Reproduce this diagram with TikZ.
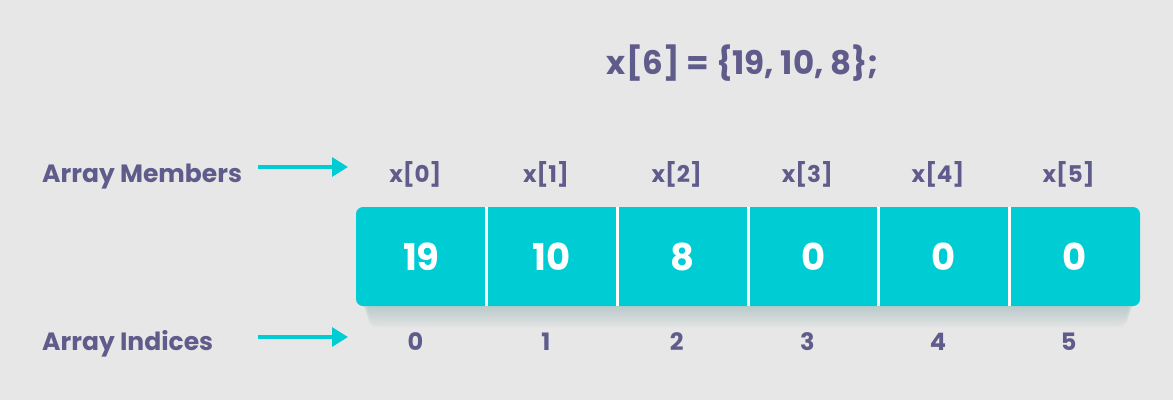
\documentclass[tikz,border=0pt]{standalone}
\usepackage{fontspec}
\setmainfont{Poppins}[UprightFont=*-Bold, BoldFont=*-Bold]
\usetikzlibrary{arrows.meta,positioning,calc}
\definecolor{bg}{HTML}{E7E7E7}
\definecolor{ink}{HTML}{5F5B8B}
\definecolor{teal}{HTML}{00CDD3}
\definecolor{shadowc}{HTML}{7FA6A8}
\tikzset{
  lbl/.style={text=ink, font=\fontsize{25}{28}\selectfont, anchor=base west, inner sep=0pt},
  mem/.style={text=ink, font=\fontsize{23}{26}\selectfont, anchor=base, inner sep=0pt},
  val/.style={text=white, font=\fontsize{37}{40}\selectfont, inner sep=0pt, minimum width=130.67pt, minimum height=99pt},
  idx/.style={text=ink, font=\fontsize{24}{26}\selectfont, anchor=base, inner sep=0pt},
  pointer/.style={draw=teal, line width=3.2pt, -{Triangle[length=16pt,width=19pt]}},
  divider/.style={draw=white, line width=3pt},
  shadowlayer/.style={fill=shadowc, opacity=0.035, rounded corners=9pt},
}
\begin{document}
\begin{tikzpicture}[x=1pt,y=-1pt]
\useasboundingbox[fill=bg] (0,0) rectangle (1173,400);
\node[text=ink, font=\fontsize{32.5}{36}\selectfont, inner sep=0pt, anchor=base] (title) at (743,74) {x[6] = \{19, 10, 8\};};
% soft shadow under the array
\foreach \k in {0,...,11} {
  \fill[shadowlayer] (362+\k*0.6,230) rectangle (1134-\k*0.6,309+\k*1.7);
}
% array box
\node[fill=teal, rounded corners=7pt, minimum width=784pt, minimum height=99pt, inner sep=0pt] (arr) at (748,256.5) {};
\foreach \v [count=\i from 0] in {19,10,8,0,0,0} {
  \node[val] (c\i) at (356+65.33+\i*130.67,256.5) {\v};
}
\foreach \i in {0,...,4} {
  \draw[divider] (c\i.north east) -- (c\i.south east);
}
\foreach \i in {0,...,5} {
  \node[mem] (m\i) at ($(c\i.center)+(-6,-74.5)$) {x[\i]};
  \node[idx] (n\i) at ($(c\i.center)+(-6,94)$) {\i};
}
\node[lbl] (lm) at (42,182) {Array Members};
\node[lbl] (li) at (42,350) {Array Indices};
\coordinate (am0) at (258,167);
\coordinate (am1) at (348,167);
\coordinate (ai0) at (258,337);
\coordinate (ai1) at (348,337);
\draw[pointer] (am0) -- (am1);
\draw[pointer] (ai0) -- (ai1);
\end{tikzpicture}
\end{document}
